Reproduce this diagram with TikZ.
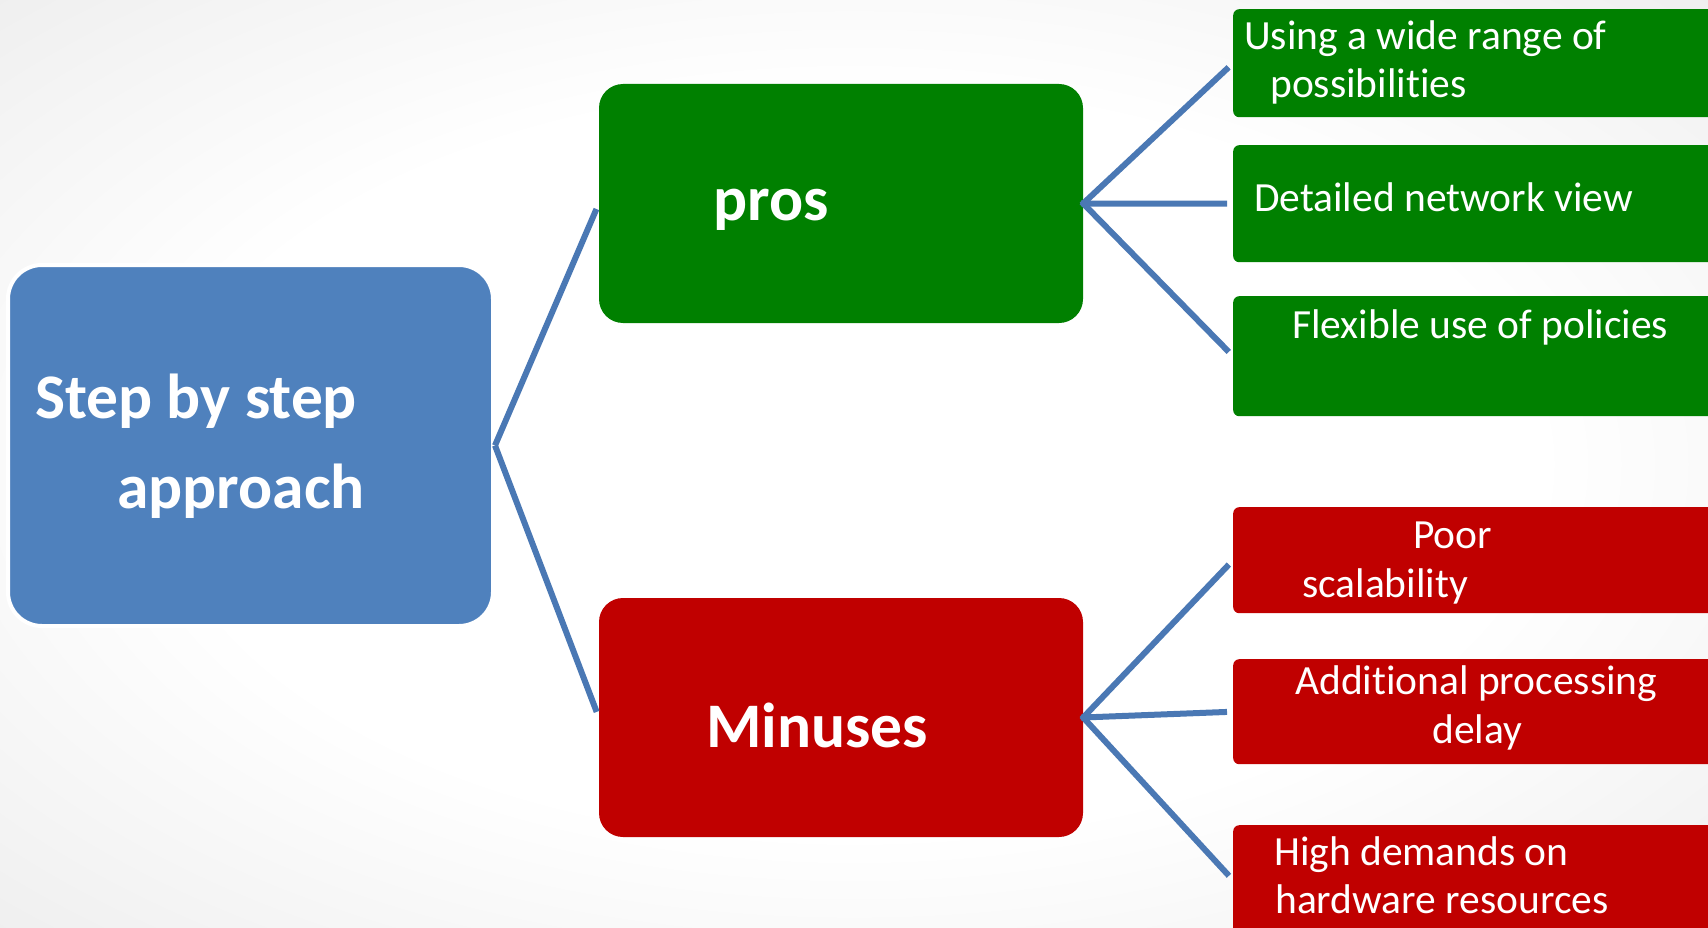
\documentclass[tikz,border=0pt]{standalone}
\usepackage{fontspec}
\setmainfont{Carlito}[Ligatures=NoCommon]
\definecolor{pgreen}{HTML}{008000}
\definecolor{pred}{HTML}{C00000}
\definecolor{pblue}{HTML}{4F81BD}
\definecolor{lineblue}{HTML}{4A78B4}
\pgfdeclareradialshading{bgshade}{\pgfpoint{0bp}{0bp}}{color(0bp)=(white); color(20bp)=(white); color(50bp)=(black!12); color(72bp)=(black!18)}
\begin{document}
\begin{tikzpicture}[x=1pt,y=-1pt,
  big/.style={rounded corners=24pt, inner sep=0pt, minimum width=484pt, minimum height=239pt},
  item/.style={rounded corners=6pt, inner sep=0pt, minimum width=520pt, anchor=north west},
  lbl/.style={text=white, anchor=base west, inner sep=0pt, font=\fontsize{41.5}{49}\selectfont},
  mlbl/.style={text=white, anchor=base west, inner sep=0pt, font=\fontsize{63.5}{74}\selectfont\bfseries},
  conn/.style={draw=lineblue, line width=6pt}]
\useasboundingbox (0,0) rectangle (1708,928);
\begin{scope}
\clip (0,0) rectangle (1708,928);
\shade[shading=bgshade] (0,0) rectangle (1708,928);
% main boxes
\node[fill=pblue, draw=white, line width=4pt, rounded corners=34pt, inner sep=0pt,
      minimum width=485pt, minimum height=361pt] (root) at (250.5,445.5) {};
\node[big, fill=pgreen] (pros) at (841,203.5) {};
\node[big, fill=pred] (minus) at (841,717.5) {};
% right boxes
\node[item, fill=pgreen, minimum height=108pt] (p1) at (1233,9) {};
\node[item, fill=pgreen, minimum height=117pt] (p2) at (1233,145) {};
\node[item, fill=pgreen, minimum height=120pt] (p3) at (1233,296) {};
\node[item, fill=pred, minimum height=106pt] (m1) at (1233,507) {};
\node[item, fill=pred, minimum height=105pt] (m2) at (1233,659) {};
\node[item, fill=pred, minimum height=110pt] (m3) at (1233,825) {};
% connectors
\draw[conn, shorten >=6pt] (root.east) -- (pros.west);
\draw[conn, shorten >=6pt] (root.east) -- (minus.west);
\foreach \t in {p1,p2,p3}{\draw[conn, shorten >=6pt, shorten <=-2pt] (pros.east) -- (\t.west);}
\foreach \t in {m1,m2,m3}{\draw[conn, shorten >=6pt, shorten <=-2pt] (minus.east) -- (\t.west);}
% labels
\node[mlbl] (tr1) at (35,418) {Step by step};
\node[mlbl] (tr2) at (117,508) {approach};
\node[mlbl] (tp) at (713,221) {pros};
\node[mlbl] (tm) at (706,747) {Minuses};
\node[lbl] (t1a) at (1244,50) {Using a wide range of};
\node[lbl] (t1b) at (1270,98) {possibilities};
\node[lbl] (t2) at (1254,212) {Detailed network view};
\node[lbl] (t3) at (1292,338) {Flexible use of policies};
\node[lbl] (t4a) at (1413,548) {Poor};
\node[lbl] (t4b) at (1302,597) {scalability};
\node[lbl] (t5a) at (1295,694) {Additional processing};
\node[lbl] (t5b) at (1432,743) {delay};
\node[lbl] (t6a) at (1274,865) {High demands on};
\node[lbl] (t6b) at (1275,913) {hardware resources};
\end{scope}
\end{tikzpicture}
\end{document}
